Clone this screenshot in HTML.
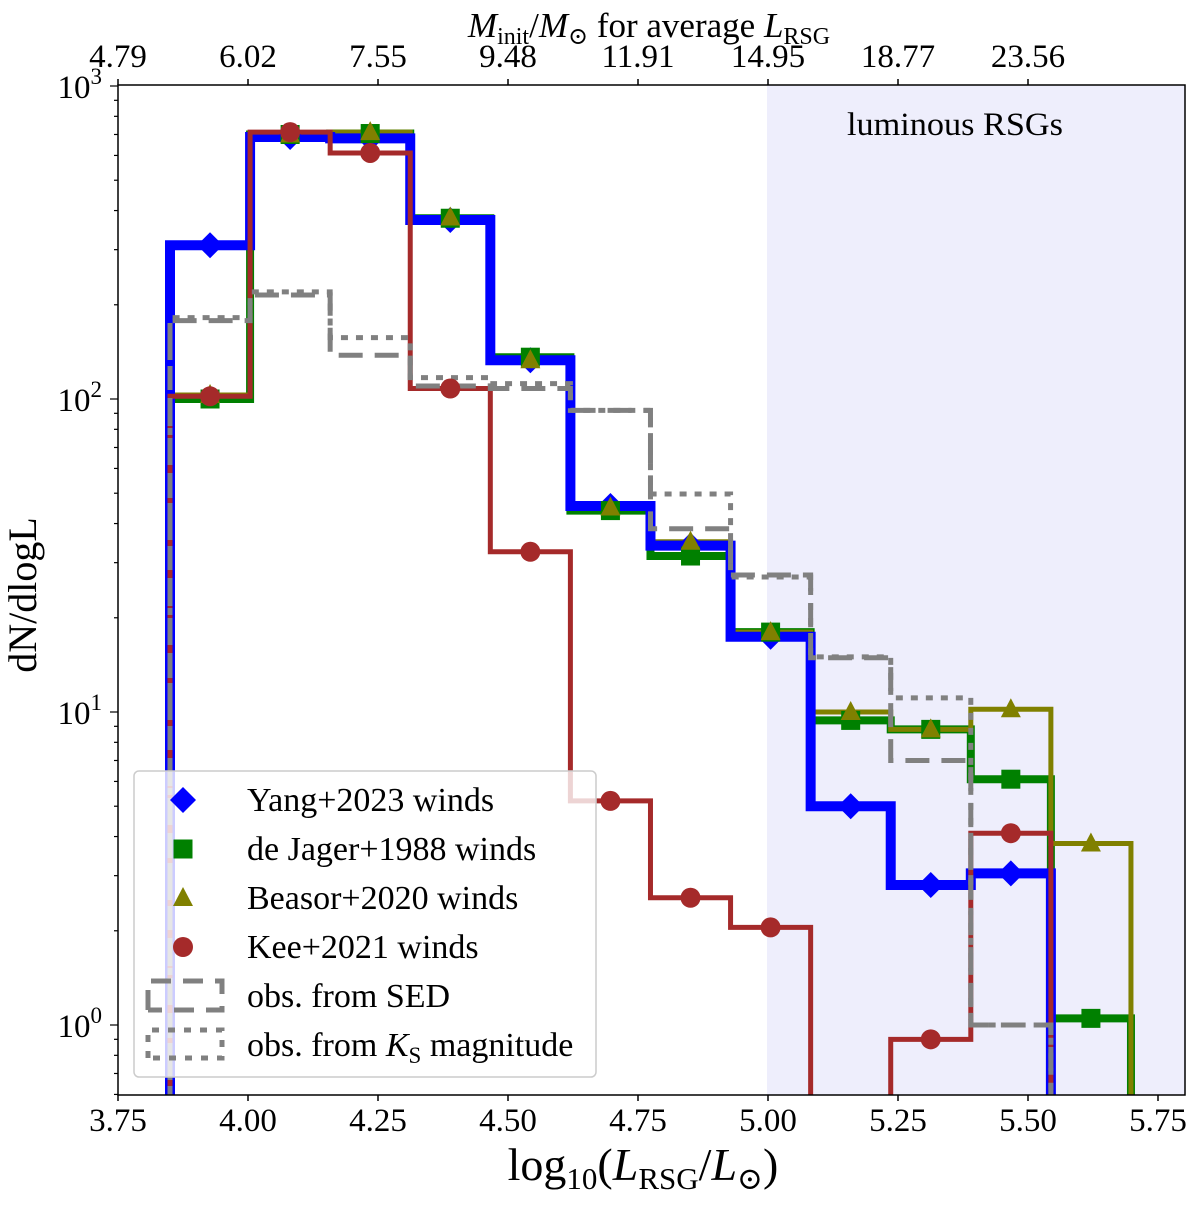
<!DOCTYPE html>
<html><head><meta charset="utf-8"><style>
html,body{margin:0;padding:0;background:#fff;width:1200px;height:1208px;overflow:hidden;}
svg{display:block;font-family:"Liberation Serif","DejaVu Serif",serif;}
</style></head><body>
<svg id="chart" width="1200" height="1208" viewBox="0 0 1200 1208">
<defs><clipPath id="pc"><rect x="118" y="85" width="1067" height="1010"/></clipPath></defs>
<rect x="767" y="85" width="418" height="1010" fill="#eeeefc"/>
<text x="955" y="135" font-size="33" text-anchor="middle" textLength="216" lengthAdjust="spacingAndGlyphs">luminous RSGs</text>
<g id="series" clip-path="url(#pc)"></g>
<g id="markers" clip-path="url(#pc)"></g>
<rect x="118" y="85" width="1067" height="1010" fill="none" stroke="#000" stroke-width="1.5"/>
<g id="axes"></g>
<text x="643" y="1180" font-size="46" text-anchor="middle">log<tspan font-size="31" dy="9">10</tspan><tspan dy="-9">(</tspan><tspan font-style="italic">L</tspan><tspan font-size="31" dy="9">RSG</tspan><tspan dy="-9">/</tspan><tspan font-style="italic">L</tspan><tspan font-size="31" dy="9">⊙</tspan><tspan dy="-9">)</tspan></text>
<text transform="translate(36,595) rotate(-90)" font-size="40" text-anchor="middle">dN/dlogL</text>
<text x="649" y="37" font-size="35" text-anchor="middle"><tspan font-style="italic">M</tspan><tspan font-size="24" dy="7">init</tspan><tspan dy="-7">/</tspan><tspan font-style="italic">M</tspan><tspan font-size="24" dy="7">⊙</tspan><tspan dy="-7"> for average </tspan><tspan font-style="italic">L</tspan><tspan font-size="24" dy="7">RSG</tspan></text>
<g>
<rect x="134" y="771" width="462" height="306" rx="5" fill="#fff" fill-opacity="0.8" stroke="#ccc" stroke-width="1.5"/>
<g id="legend"></g>
</g>
</svg>
<script>
const edges=[3.85,4.004,4.158,4.312,4.466,4.62,4.774,4.928,5.082,5.236,5.39,5.544,5.698];
const yang=[310,687,680,373,133,45.5,34,17.4,5.0,2.8,3.05,0];
const jager=[100,700,705,378,136,44,31.5,18,9.4,8.8,6.1,1.05];
const beasor=[103,700,712,380,133,45,35,18,10,8.8,10.2,3.8];
const kee=[102,712,611,108,32.5,5.2,2.55,2.05,0,0.9,4.1,0];
const sed=[178,215,138,110,108,92,38.5,27.4,14.9,7.0,1.0,0];
const ks=[182,220,157,117,112,92,49.7,27,15,11.1,1.0,0];
const xTicks=[3.75,4.00,4.25,4.50,4.75,5.00,5.25,5.50,5.75];
const topLabels=["4.79","6.02","7.55","9.48","11.91","14.95","18.77","23.56"];
const yDecades=[0,1,2,3];
const NS="http://www.w3.org/2000/svg";
const BOT=1110;
const X=v=>118+(v-3.75)*520;
const Y=v=>v<=0?BOT:Math.min(BOT,1025-313*Math.log10(v));
function mk(t,a,p){const e=document.createElementNS(NS,t);for(const k in a)e.setAttribute(k,a[k]);p.appendChild(e);return e;}
const S=document.getElementById('series');
const M=document.getElementById('markers');
function stepPath(vals){let d=`M${X(edges[0])},${BOT}`;vals.forEach((v,i)=>{d+=`L${X(edges[i])},${Y(v)}L${X(edges[i+1])},${Y(v)}`;});d+=`L${X(edges[edges.length-1])},${BOT}`;return d;}
function marker(shape,cx,cy,col,g){
 if(shape==='d')return mk('path',{d:`M${cx},${cy-13}L${cx+13},${cy}L${cx},${cy+13}L${cx-13},${cy}Z`,fill:col},g);
 if(shape==='s')return mk('rect',{x:cx-9.5,y:cy-9.5,width:19,height:19,fill:col},g);
 if(shape==='t')return mk('path',{d:`M${cx},${cy-11}L${cx+10},${cy+8}L${cx-10},${cy+8}Z`,fill:col},g);
 return mk('circle',{cx:cx,cy:cy,r:10,fill:col},g);
}
const series=[
 {vals:jager,col:'#008000',w:8,m:'s',name:'de-jager-1988-series'},
 {vals:beasor,col:'#808000',w:5,m:'t',name:'beasor-2020-series'},
 {vals:yang,col:'#0000ff',w:10,m:'d',name:'yang-2023-series'},
 {vals:kee,col:'#a52a2a',w:5,m:'c',name:'kee-2021-series'}];
series.forEach(s=>{
 const p=mk('path',{d:stepPath(s.vals),fill:'none',stroke:s.col,'stroke-width':s.w},S);
 
 
});
const markerOrder=[2,0,1,3];
markerOrder.forEach(si=>{const s=series[si];
 s.vals.forEach((v,i)=>{if(v<=0)return;const c=(edges[i]+edges[i+1])/2;
  const m=marker(s.m,X(c),Y(v),s.col,M);
  
  });
});
const obs=[{vals:sed,dash:'24,12',name:'obs-sed-series'},{vals:ks,dash:'7,8',name:'obs-ks-series'}];
obs.forEach(o=>{
 const p=mk('path',{d:stepPath(o.vals),fill:'none',stroke:'#808080','stroke-width':5,'stroke-dasharray':o.dash},S);
 
 
});
const A=document.getElementById('axes');
xTicks.forEach(t=>{
 mk('line',{x1:X(t),x2:X(t),y1:1095,y2:1101,stroke:'#000','stroke-width':1.5},A);
 const tx=mk('text',{x:X(t),y:1131,'font-size':33,'text-anchor':'middle'},A);tx.textContent=t.toFixed(2);
 
 
});
topLabels.forEach((l,i)=>{
 const x=X(xTicks[i]);
 mk('line',{x1:x,x2:x,y1:85,y2:79,stroke:'#000','stroke-width':1.5},A);
 const tx=mk('text',{x:x,y:67,'font-size':33,'text-anchor':'middle'},A);tx.textContent=l;
 
 
});
for(let d=-1;d<=3;d++){for(let k=1;k<10;k++){const v=k*Math.pow(10,d);const y=1025-313*Math.log10(v);if(y<85||y>1095)continue;
 mk('line',{x1:118,x2:k===1?110:114,y1:y,y2:y,stroke:'#000','stroke-width':1.2},A);}}
yDecades.forEach(d=>{
 const tx=mk('text',{x:102,y:Y(Math.pow(10,d))+12,'font-size':33,'text-anchor':'end'},A);
 tx.innerHTML='10<tspan font-size="23" dy="-14">'+d+'</tspan>';
 
 
});
const L=document.getElementById('legend');
const labels=['Yang+2023 winds','de Jager+1988 winds','Beasor+2020 winds','Kee+2021 winds'];
const legendOrder=[2,0,1,3];
legendOrder.forEach((si,i)=>{const s=series[si];const y=800+49*i;
 const m=marker(s.m,183,y,s.col,L);
 
 
 const t=mk('text',{x:247,y:y+11,'font-size':34},L);t.textContent=labels[i];
 
 
});
mk('path',{d:'M148,1010L148,981L222,981L222,1010L148,1010',fill:'none',stroke:'#808080','stroke-width':5,'stroke-dasharray':'20,12'},L);
mk('path',{d:'M148,1058L148,1030L222,1030L222,1058L148,1058',fill:'none',stroke:'#808080','stroke-width':5,'stroke-dasharray':'7,9'},L);
const t1=mk('text',{x:247,y:1007,'font-size':34},L);t1.textContent='obs. from SED';


const t2=mk('text',{x:247,y:1056,'font-size':34},L);t2.innerHTML='obs. from <tspan font-style="italic">K</tspan><tspan font-size="23" dy="7">S</tspan><tspan dy="-7"> magnitude</tspan>';


</script>
</body></html>
